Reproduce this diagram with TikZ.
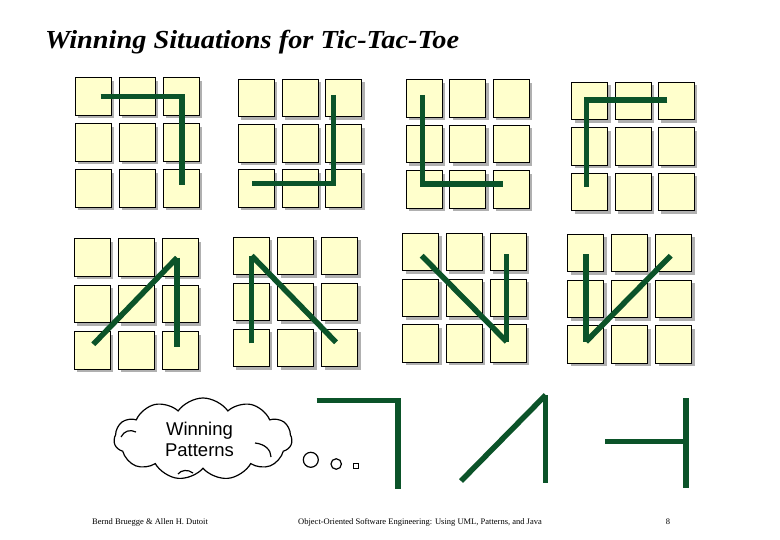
\documentclass[tikz,border=0pt]{standalone}
\usepackage{fontspec}
\setmainfont{Liberation Serif}
\newfontfamily\arialf{Liberation Sans}
\usetikzlibrary{shapes.symbols}
\definecolor{cellfill}{HTML}{FFFFCC}
\definecolor{shadowgray}{HTML}{B0B0B0}
\definecolor{wingreen}{HTML}{0B5329}
\newcommand\tttgrid[4]{%
  \foreach \i in {0,1,2}{\foreach \j in {0,1,2}{
    \fill[shadowgray] ({#1+\i*#3+3},{#2+\j*#4+3}) rectangle ++(36,37.5);
    \draw[cell] ({#1+\i*#3},{#2+\j*#4}) rectangle ++(36,37.5);
  }}}
\begin{document}
\begin{tikzpicture}[x=1pt,y=-1pt,
  cell/.style={draw=black, line width=1pt, fill=cellfill},
  win/.style={draw=wingreen, line width=5.5pt},
  bubble/.style={draw=black, line width=1.2pt},
  footer/.style={inner sep=0, font=\fontsize{8.5}{10}\selectfont},
]
\useasboundingbox (0,0) rectangle (780,540);
\fill[white] (0,0) rectangle (780,540);

\node[anchor=base west, inner sep=0, font=\bfseries\itshape\fontsize{26}{30}\selectfont] (title) at (45,49) {\scalebox{1.09}[1]{Winning Situations for Tic-Tac-Toe}};

% grids
\tttgrid{75}{78}{44}{46}
\tttgrid{238.3}{79.3}{43.7}{45.3}
\tttgrid{406}{80}{43.7}{45.5}
\tttgrid{571.7}{82.3}{43.3}{45.5}
\tttgrid{74}{239}{44.2}{46.3}
\tttgrid{233.3}{237.3}{44.2}{46}
\tttgrid{402.7}{233.3}{43.7}{45.8}
\tttgrid{567.7}{234.3}{44}{45.8}

% winning lines
\draw[win] (100.7,96.7) -- (182,96.7) -- (182,185);
\draw[win] (333.3,95) -- (333.3,183.3) -- (252.3,183.3);
\draw[win] (422.3,95) -- (422.3,184) -- (503.3,184);
\draw[win] (667.3,100) -- (586.7,100) -- (586.7,187.3);
\draw[win] (93.3,344.3) -- (177,257.7);
\draw[win] (177,257.7) -- (177,346.7);
\draw[win] (251.7,343.3) -- (251.7,255.7);
\draw[win] (251.7,255.7) -- (336,342.3);
\draw[win] (421.7,255.7) -- (506.7,341.7);
\draw[win] (506.7,341.7) -- (506.7,254.3);
\draw[win] (586,254.3) -- (586,341.7);
\draw[win] (586,341.7) -- (670.7,255.7);

% patterns
\draw[win] (316.7,400.7) -- (398,400.7) -- (398,489.3);
\draw[win] (461,481) -- (545.7,395);
\draw[win] (545.7,395) -- (545.7,483.3);
\draw[win] (605,441.7) -- (686,441.7);
\draw[win] (686,398.3) -- (686,488.3);

% cloud
\node[cloud, bubble, cloud puffs=11, cloud puff arc=110, aspect=2.2,
      minimum width=178pt, minimum height=82pt, inner sep=0] (cloud) at (203,439) {};
\draw[bubble] (121,437) .. controls (124,431) and (130,429) .. (136,432);
\draw[bubble] (255,443) .. controls (265,444) and (271,450) .. (271,457);
\draw[bubble] (178,474) .. controls (181,470) and (188,469) .. (193,473);
\node[font=\arialf\fontsize{18.5}{21}\selectfont, align=center, inner sep=0] (cloudtext) at (199.5,439.5) {Winning\\Patterns};
\node[circle, bubble, minimum size=15pt, inner sep=0] (b1) at (310.8,459.8) {};
\node[circle, bubble, minimum size=10.5pt, inner sep=0] (b2) at (336.2,464) {};
\node[rectangle, bubble, minimum size=5pt, inner sep=0, line width=1pt] (b3) at (356.2,466.2) {};

% footer
\node[anchor=west, footer] (author) at (92,522) {Bernd Bruegge \& Allen H. Dutoit};
\node[anchor=west, footer] (book) at (298,522) {Object-Oriented Software Engineering: Using UML, Patterns, and Java};
\node[footer] (page) at (668,522) {8};
\end{tikzpicture}
\end{document}
